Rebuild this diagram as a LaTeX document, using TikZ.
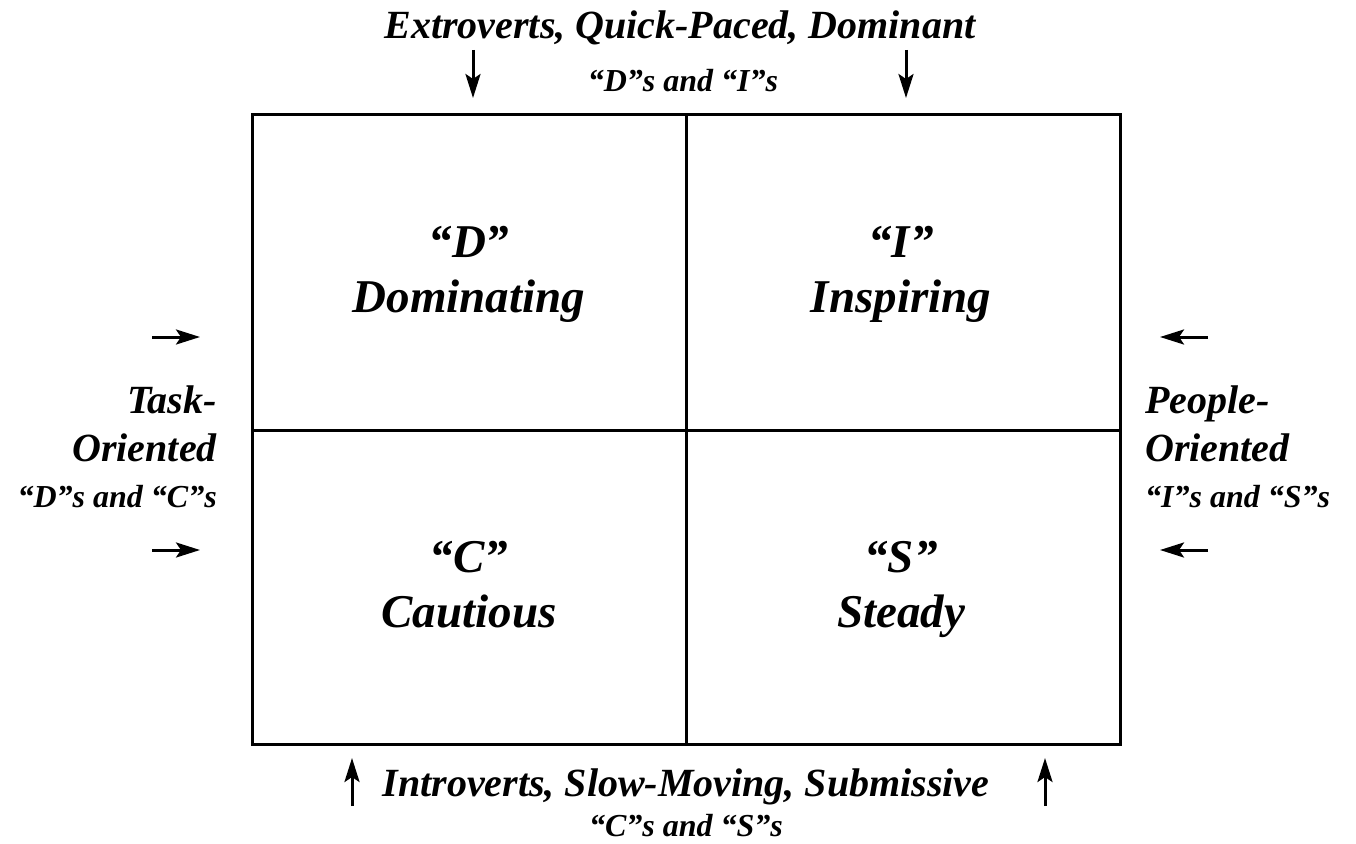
\documentclass[tikz,border=0pt]{standalone}
\usepackage{fontspec}
\setmainfont{Liberation Serif}
\usetikzlibrary{arrows.meta}
\tikzset{
  lbl/.style={font=\fontsize{40}{42}\selectfont\bfseries\itshape, inner sep=0pt, anchor=base},
  sub/.style={font=\fontsize{32}{34}\selectfont\bfseries\itshape, inner sep=0pt, anchor=base},
  quad/.style={font=\fontsize{47}{50}\selectfont\bfseries\itshape, inner sep=0pt, anchor=base},
  arr/.style={line width=3pt, -{Stealth[length=24pt,width=15pt,inset=5pt]}},
  grid/.style={line width=3pt}
}
\begin{document}
\begin{tikzpicture}[x=1pt,y=-1pt]
\useasboundingbox (0,0) rectangle (1356,843);
% box
\coordinate (tl) at (252,114);
\coordinate (br) at (1120,744);
\coordinate (tm) at (686,114);
\coordinate (bm) at (686,744);
\coordinate (ml) at (252,430);
\coordinate (mr) at (1120,430);
\draw[grid] (tl) rectangle (br);
\draw[grid] (tm) -- (bm);
\draw[grid] (ml) -- (mr);
% quadrant labels
\node[quad] (dq) at (469,257) {“D”};
\node[quad] (dn) at (469,312) {Dominating};
\node[quad] (iq) at (901,257) {“I”};
\node[quad] (in) at (901,312) {Inspiring};
\node[quad] (cq) at (469,572) {“C”};
\node[quad] (cn) at (469,627) {Cautious};
\node[quad] (sq) at (901,572) {“S”};
\node[quad] (sn) at (901,627) {Steady};
% top
\node[lbl] (top) at (680,39) {Extroverts, Quick-Paced, Dominant};
\node[sub] (topsub) at (683,92) {“D”s and “I”s};
\coordinate (ta1) at (473,50); \coordinate (ta1e) at (473,98);
\coordinate (ta2) at (906,50); \coordinate (ta2e) at (906,98);
\draw[arr] (ta1) -- (ta1e);
\draw[arr] (ta2) -- (ta2e);
% bottom
\node[lbl] (bot) at (686,796) {Introverts, Slow-Moving, Submissive};
\node[sub] (botsub) at (686,836) {“C”s and “S”s};
\coordinate (ba1) at (352,806); \coordinate (ba1e) at (352,758);
\coordinate (ba2) at (1045,806); \coordinate (ba2e) at (1045,758);
\draw[arr] (ba1) -- (ba1e);
\draw[arr] (ba2) -- (ba2e);
% left
\node[lbl, anchor=base east] (l1) at (217,413) {Task-};
\node[lbl, anchor=base east] (l2) at (217,461) {Oriented};
\node[sub, anchor=base east] (l3) at (217,507) {“D”s and “C”s};
\coordinate (la1) at (152,337); \coordinate (la1e) at (200,337);
\coordinate (la2) at (152,550); \coordinate (la2e) at (200,550);
\draw[arr] (la1) -- (la1e);
\draw[arr] (la2) -- (la2e);
% right
\node[lbl, anchor=base west] (r1) at (1145,413) {People-};
\node[lbl, anchor=base west] (r2) at (1145,461) {Oriented};
\node[sub, anchor=base west] (r3) at (1145,507) {“I”s and “S”s};
\coordinate (ra1) at (1208,337); \coordinate (ra1e) at (1160,337);
\coordinate (ra2) at (1208,550); \coordinate (ra2e) at (1160,550);
\draw[arr] (ra1) -- (ra1e);
\draw[arr] (ra2) -- (ra2e);
\end{tikzpicture}
\end{document}
